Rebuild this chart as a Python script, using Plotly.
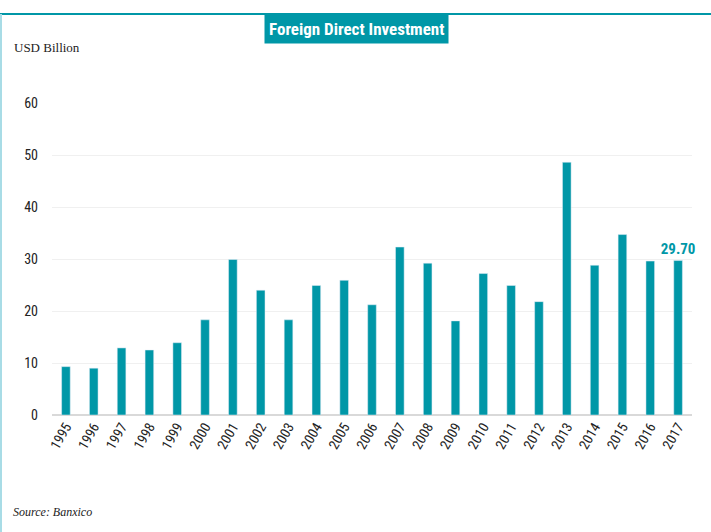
import plotly.graph_objects as go

years = [str(y) for y in range(1995, 2018)]
fdi = [9.3, 9.0, 12.9, 12.5, 13.9, 18.3, 29.9, 24.0, 18.3, 24.9, 25.9, 21.2,
       32.3, 29.2, 18.1, 27.2, 24.9, 21.8, 48.6, 28.8, 34.7, 29.6, 29.7]
y_ticks = [0, 10, 20, 30, 40, 50, 60]

teal = "#0097A7"
sans = "Liberation Sans Narrow, Roboto Condensed, Noto Sans, sans-serif"
serif = "Liberation Serif, DejaVu Serif, serif"

labels = ["" for _ in fdi]
labels[-1] = f"{fdi[-1]:.2f}"

fig = go.Figure(go.Bar(
    x=years, y=fdi, marker_color=teal, width=0.31,
    text=labels, textposition="outside", cliponaxis=False, constraintext="none",
    textfont=dict(color=teal, size=15, family=sans, weight="bold"),
))

fig.update_layout(
    width=711, height=532,
    margin=dict(l=52, r=19, t=103, b=117),
    paper_bgcolor="white", plot_bgcolor="white",
    showlegend=False,
    xaxis=dict(type="category", tickangle=-60, tickfont=dict(family=sans, size=14, color="#222"),
               showgrid=False, showline=False, ticks=""),
    yaxis=dict(range=[0, 60], tickvals=y_ticks, tickfont=dict(family=sans, size=14, color="#222"),
               showgrid=True, gridcolor="#f0f0f0", gridwidth=1,
               zeroline=True, zerolinecolor="#d9d9d9", zerolinewidth=2,
               ticks="", ticklen=0, showline=False, ticklabelstandoff=13),
    shapes=[
        dict(type="line", xref="paper", yref="paper", x0=-52/640, x1=1+19/640,
             y0=1+(103-14)/312, y1=1+(103-14)/312, line=dict(color=teal, width=2)),
        dict(type="line", xref="paper", yref="paper", x0=-51/640, x1=-51/640,
             y0=1+(103-14)/312, y1=-117/312, line=dict(color="#a8dce6", width=2)),
    ],
    annotations=[
        dict(text="Foreign Direct Investment", xref="paper", yref="paper",
             x=(356-52)/640, y=1+(103-29)/312, xanchor="center", yanchor="middle",
             showarrow=False, bgcolor=teal, borderpad=4,
             font=dict(family=sans, size=17, color="white", weight="bold")),
        dict(text="USD Billion", xref="paper", yref="paper",
             x=-40/640, y=1+(103-48)/312, xanchor="left", yanchor="middle",
             showarrow=False, font=dict(family=serif, size=13, color="#222")),
        dict(text="<i>Source: Banxico</i>", xref="paper", yref="paper",
             x=-41/640, y=-(512-415)/312, xanchor="left", yanchor="middle",
             showarrow=False, font=dict(family=serif, size=12, color="#222")),
    ],
)

fig.write_html("out.html", config={"displayModeBar": False},
               post_script="document.body.style.margin='0';")
